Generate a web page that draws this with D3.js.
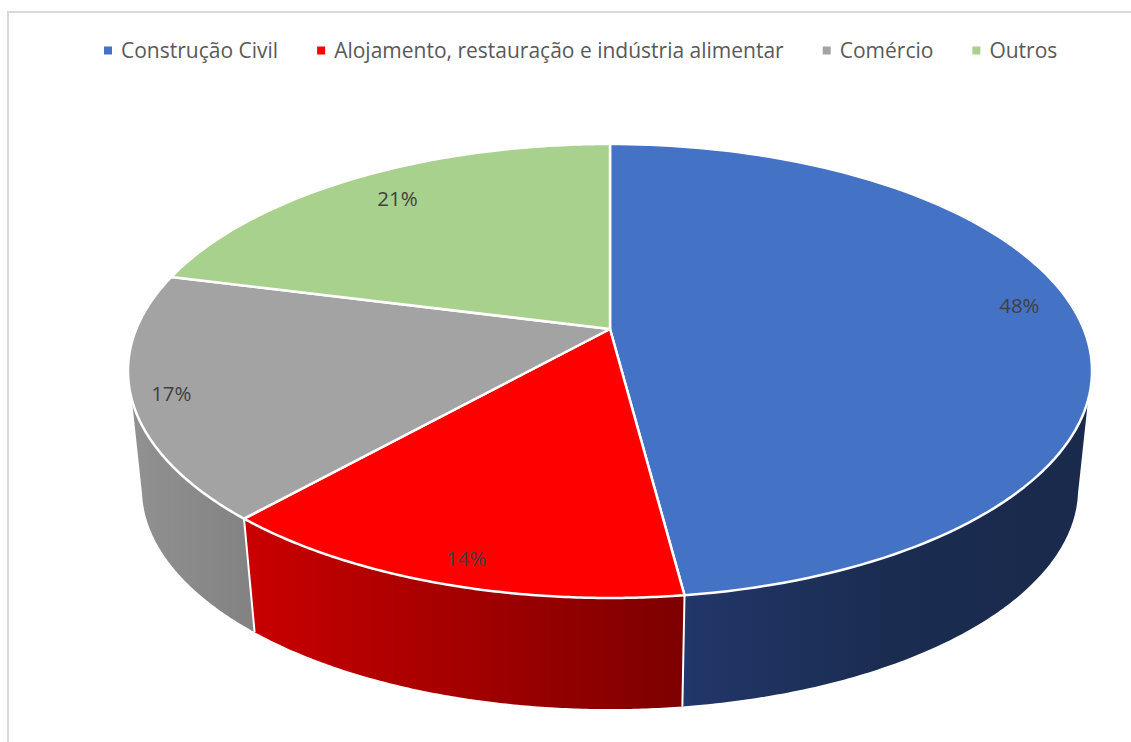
<!DOCTYPE html>
<html>
<head>
<meta charset="utf-8">
<script src="https://cdn.jsdelivr.net/npm/d3@7"></script>
<style>
  html, body { margin: 0; padding: 0; background: #fff; }
  svg { display: block; }
  text { font-family: "Open Sans", "Noto Sans", sans-serif; }
</style>
</head>
<body>
<div id="chart"></div>
<script>
const categories = ['Construção Civil', 'Alojamento, restauração e indústria alimentar', 'Comércio', 'Outros'];
const values = [47.95, 13.65, 17.4, 21.0];
const topColors = ['#4472c4', '#ff0000', '#a3a3a3', '#a9d18e'];
const sideColors = [['#22376a', '#1a2c50', '#192a4c'], ['#c90000', '#7d0000'], ['#919191', '#828282'], ['#a9d18e', '#a9d18e']];

const width = 1131, height = 742;

const svg = d3.select('#chart').append('svg')
    .attr('width', width)
    .attr('height', height);

// Chart frame, only top and left show in the crop
svg.append('path')
    .attr('d', `M8,${height}V12H${width}`)
    .attr('fill', 'none')
    .attr('stroke', '#d9d9d9')
    .attr('stroke-width', 2);

// Perspective of the disc: k is the foreshortening from back to front
const k = 0.185;
const topFace = {x: 610, y: 329, a: 473.7, b: 219.2, front: [107.8, 252.2]};
const bottomFace = {x: 610, y: 448, a: 460, b: 212.8, front: [102, 258]};
const project = (face, angle, r = 1) => {
    const u = Math.sin(angle) * r, v = -Math.cos(angle) * r, w = 1 - k * v;
    return [face.x + face.a * u / w, face.y + face.b * v / w];
};
const rad = d => d * Math.PI / 180;

const pie = d3.pie().sort(null).value(d => d);
const slices = pie(values);
const line = d3.line();

const arcPoints = (face, a0, a1, r = 1) => d3.range(0, 121).map(i => project(face, a0 + (a1 - a0) * i / 120, r));

// Part of a slice's rim that faces the viewer, clamped to where the silhouette begins
const frontArc = (face, s) => {
    const a0 = Math.max(s.startAngle, rad(face.front[0])), a1 = Math.min(s.endAngle, rad(face.front[1]));
    return a1 > a0 ? arcPoints(face, a0, a1) : [];
};

// Wall gradients, one per slice
const defs = svg.append('defs');
slices.forEach((s, i) => {
    const grad = defs.append('linearGradient').attr('id', `side${i}`);
    sideColors[i].forEach((c, j, all) => {
        grad.append('stop').attr('offset', `${100 * j / (all.length - 1)}%`).attr('stop-color', c);
    });
});

// Walls, front part of the disc only
const walls = svg.append('g');
slices.forEach((s, i) => {
    const upper = frontArc(topFace, s), lower = frontArc(bottomFace, s);
    if (!upper.length) return;
    walls.append('path')
        .attr('d', line(upper.concat(lower.reverse())) + 'Z')
        .attr('fill', `url(#side${i})`);
});

// White seams between the walls
slices.forEach(s => {
    if (s.endAngle <= rad(topFace.front[0]) || s.endAngle >= rad(topFace.front[1])) return;
    walls.append('path')
        .attr('d', line([project(topFace, s.endAngle), project(bottomFace, s.endAngle)]))
        .attr('stroke', '#fff')
        .attr('stroke-width', 2);
});

// Top face
svg.append('g').selectAll('path')
    .data(slices)
    .join('path')
    .attr('d', d => line([project(topFace, 0, 0)].concat(arcPoints(topFace, d.startAngle, d.endAngle))) + 'Z')
    .attr('fill', (d, i) => topColors[i])
    .attr('stroke', '#fff')
    .attr('stroke-width', 2.5)
    .attr('stroke-linejoin', 'round');

// Data labels
const labelRadius = [0.875, 0.87, 0.92, 0.82];
const labelNudge = [-11, 15, 3, -3];
svg.append('g').selectAll('text')
    .data(slices)
    .join('text')
    .attr('transform', (d, i) => {
        const p = project(topFace, (d.startAngle + d.endAngle) / 2, labelRadius[i]);
        return `translate(${p[0]},${p[1] + labelNudge[i]})`;
    })
    .attr('text-anchor', 'middle')
    .attr('dy', '0.35em')
    .attr('font-size', 20.5)
    .attr('fill', '#404040')
    .text(d => `${Math.round(d.value)}%`);

// Legend, laid out left to right from measured text
const legend = svg.append('g');
let lx = 104;
categories.forEach((c, i) => {
    legend.append('rect')
        .attr('x', lx).attr('y', 46.5)
        .attr('width', 8).attr('height', 8)
        .attr('fill', topColors[i]);
    const t = legend.append('text')
        .attr('x', lx + 17).attr('y', 58)
        .attr('font-size', 21)
        .attr('fill', '#595959')
        .text(c);
    lx += 17 + t.node().getComputedTextLength() + 39;
});
</script>
</body>
</html>
